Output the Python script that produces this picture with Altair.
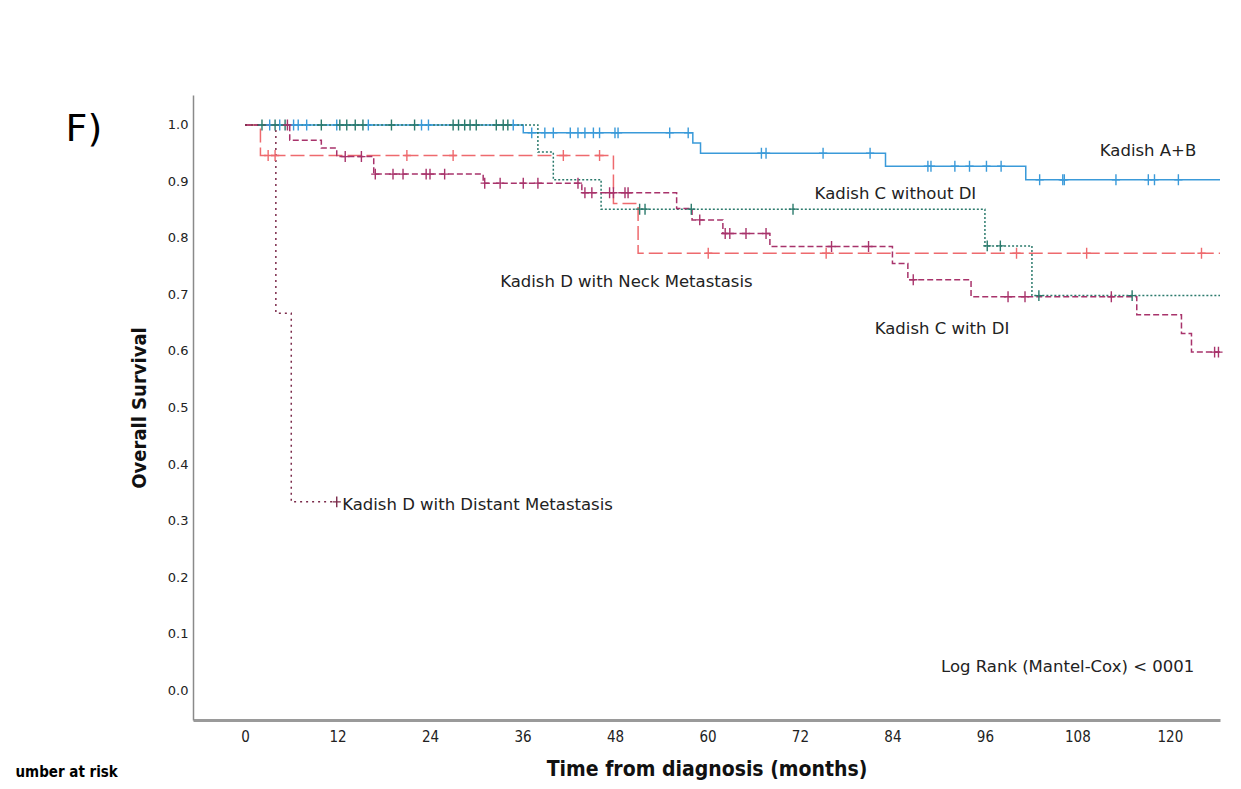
import altair as alt
import pandas as pd

groups = ["Kadish A+B", "Kadish C without DI", "Kadish D with Neck Metastasis",
          "Kadish C with DI", "Kadish D with Distant Metastasis"]
line_colors = ["#3a9ad9", "#2b7a6c", "#ee6a6e", "#a8336b", "#7b2a4a"]
dashes = [[1, 0], [2, 2], [14, 5], [6, 3], [2, 4]]

# Kaplan-Meier step functions (time in months, survival)
ab_t = [0, 36.1, 58.1, 59.1, 83.1, 101.3, 126.5]
ab_s = [1.0, 0.986, 0.968, 0.950, 0.927, 0.903, 0.903]
ab_c = [3.2, 4.5, 6.3, 6.9, 8.0, 11.9, 16.0, 22.9, 23.8, 34.8,
        37.2, 38.9, 40.0, 42.2, 43.2, 44.1, 45.2, 46.0, 48.0, 48.4, 55.1, 57.5,
        67.0, 67.6, 75.0, 81.1, 88.6, 89.0, 92.1, 94.0, 96.2, 98.1,
        103.1, 106.1, 106.3, 113.0, 117.2, 118.0, 121.1]

cw_t = [0, 38.0, 40.0, 46.2, 96.0, 102.1, 126.5]
cw_s = [1.0, 0.952, 0.903, 0.851, 0.786, 0.698, 0.698]
cw_c = [2.2, 3.9, 5.2, 9.9, 12.3, 13.2, 14.3, 15.3, 19.0, 22.0, 27.0, 27.7, 28.5,
        29.2, 30.0, 32.6, 33.5, 34.1, 51.2, 51.9, 57.9, 71.1, 96.3, 98.0, 103.0, 115.1]

dn_t = [0, 2.0, 47.8, 51.0, 126.5]
dn_s = [1.0, 0.946, 0.861, 0.773, 0.773]
dn_c = [3.0, 3.9, 21.0, 27.0, 41.3, 46.0, 60.1, 75.4, 100.1, 109.2, 124.1]

cd_t = [0, 5.8, 9.9, 11.9, 16.7, 30.9, 43.7, 56.0, 58.0, 62.0, 68.1, 84.0, 86.0,
        94.2, 115.7, 121.5, 122.8, 126.5]
cd_s = [1.0, 0.973, 0.959, 0.944, 0.913, 0.897, 0.880, 0.852, 0.832, 0.808, 0.785,
        0.755, 0.726, 0.696, 0.664, 0.631, 0.598, 0.598]
cd_c = [5.5, 13.0, 15.1, 16.9, 19.2, 20.5, 23.5, 24.0, 25.9, 31.1, 33.1, 36.1, 38.0,
        43.2, 44.1, 45.0, 47.3, 47.8, 49.3, 49.7, 59.0, 62.3, 62.9, 65.0, 67.6,
        76.1, 80.9, 86.7, 99.0, 101.2, 112.4, 125.8, 126.3]

dd_t = [0, 4.0, 6.0, 11.9]
dd_s = [1.0, 0.667, 0.333, 0.333]
dd_c = [11.9]

series = [(groups[0], ab_t, ab_s, ab_c), (groups[1], cw_t, cw_s, cw_c),
          (groups[2], dn_t, dn_s, dn_c), (groups[3], cd_t, cd_s, cd_c),
          (groups[4], dd_t, dd_s, dd_c)]

label_text = ["Kadish A+B", "Kadish C without DI", "Kadish D with Neck Metastasis",
              "Kadish C with DI", "Kadish D with Distant Metastasis",
              "Log Rank (Mantel-Cox) < 0001"]
label_x = [110.9, 73.9, 33.1, 81.7, 12.6, 90.3]
label_y = [0.954, 0.878, 0.722, 0.639, 0.327, 0.041]

line_rows, cens_rows = [], []
for g, ts, ss, cs in series:
    for t, s in zip(ts, ss):
        line_rows.append({"group": g, "t": t, "s": s})
    for c in cs:
        val = ss[0]
        for t, s in zip(ts, ss):
            if t <= c:
                val = s
        cens_rows.append({"group": g, "t": c, "s": val})

lines_df = pd.DataFrame(line_rows)
cens_df = pd.DataFrame(cens_rows)
labels_df = pd.DataFrame({"text": label_text, "t": label_x, "s": label_y})

xs = alt.Scale(domain=[-6.75, 126.5], nice=False, zero=False)
ys = alt.Scale(domain=[-0.053, 1.053], nice=False, zero=False)
cs = alt.Scale(domain=groups, range=line_colors)
ds = alt.Scale(domain=groups, range=dashes)

cond = "Liberation Sans Narrow, DejaVu Sans Condensed, Arial Narrow, sans-serif"

x_axis = alt.Axis(values=list(range(0, 121, 12)), title="Time from diagnosis (months)",
                  grid=False, ticks=False, domainColor="#9a9a9a", domainWidth=3,
                  labelFont=cond, labelFontSize=15, labelColor="#222", labelPadding=9,
                  titleFont=cond, titleFontSize=21, titleFontWeight="bold",
                  titleColor="#111", titlePadding=14)
y_axis = alt.Axis(values=[i / 10 for i in range(11)], format=".1f", title="Overall Survival",
                  grid=False, ticks=False, domainColor="#8a8a8a", domainWidth=1.5,
                  labelFont="DejaVu Sans", labelFontSize=13, labelColor="#222",
                  labelPadding=5, titleFont=cond, titleFontSize=20,
                  titleFontWeight="bold", titleColor="#111", titlePadding=18)

lines = alt.Chart(lines_df).mark_line(interpolate="step-after", strokeWidth=1.5).encode(
    x=alt.X("t:Q", scale=xs, axis=x_axis),
    y=alt.Y("s:Q", scale=ys, axis=y_axis),
    color=alt.Color("group:N", scale=cs, legend=None),
    strokeDash=alt.StrokeDash("group:N", scale=ds, legend=None),
)

cross = "M-0.75,0H0.75M0,-1V1"
ticks = alt.Chart(cens_df).mark_point(shape=cross, filled=False, size=120,
                                       strokeWidth=1.4, opacity=1).encode(
    x=alt.X("t:Q", scale=xs),
    y=alt.Y("s:Q", scale=ys),
    color=alt.Color("group:N", scale=cs, legend=None),
)

labels = alt.Chart(labels_df).mark_text(align="left", baseline="middle", font="DejaVu Sans",
                                         fontSize=16.5, color="#222").encode(
    x=alt.X("t:Q", scale=xs), y=alt.Y("s:Q", scale=ys), text="text:N")

panel_text = ["F)"]
panel_x = [-20.9]
panel_y = [0.991]
panel = alt.Chart(pd.DataFrame({"text": panel_text, "t": panel_x, "s": panel_y})).mark_text(
    align="center", baseline="middle", font="DejaVu Sans", fontSize=38, color="#000").encode(
    x=alt.X("t:Q", scale=xs), y=alt.Y("s:Q", scale=ys), text="text:N")

risk_text = ["umber at risk"]
risk_x = [-16.5]
risk_y = [-0.145]
risk = alt.Chart(pd.DataFrame({"text": risk_text, "t": risk_x, "s": risk_y})).mark_text(
    align="right", baseline="middle", font=cond, fontSize=15, fontWeight="bold",
    color="#000").encode(
    x=alt.X("t:Q", scale=xs), y=alt.Y("s:Q", scale=ys), text="text:N")

chart = alt.layer(lines, ticks, labels, panel, risk).properties(
    width=1027, height=625,
    padding={"left": 185, "top": 87, "right": 5, "bottom": 60},
    autosize=alt.AutoSizeParams(type="none"),
    background="white",
).configure_view(stroke=None)

chart.save("out.html", embed_options={"renderer": "svg", "actions": False})
